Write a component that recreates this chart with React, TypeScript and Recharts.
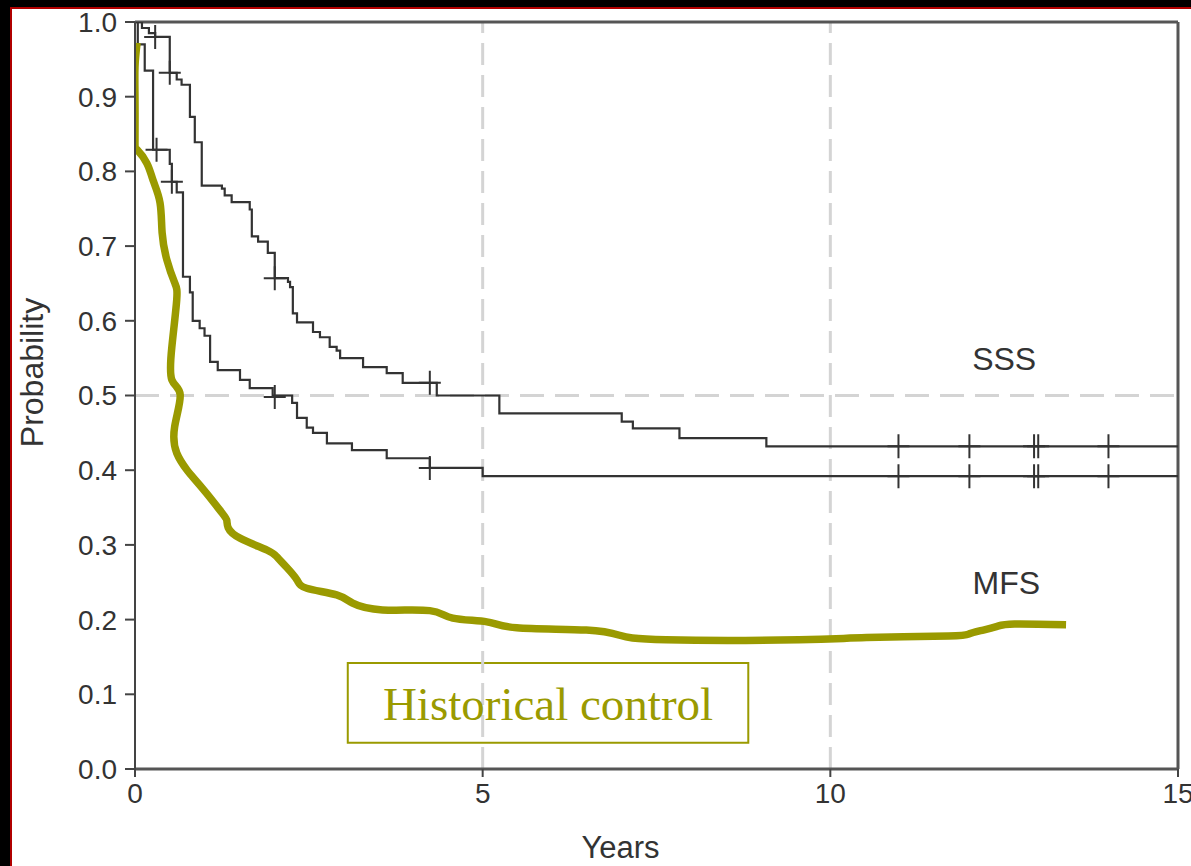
import React from 'react';
import { LineChart, Line, XAxis, YAxis, ReferenceLine, ReferenceArea, ReferenceDot } from 'recharts';

// SSS curve: time of each step (years) and the probability after it
const sssTimes = [0, 0.1, 0.2, 0.29, 0.5, 0.6, 0.67, 0.79, 0.86, 0.96, 1.25, 1.29, 1.39, 1.65, 1.68, 1.77, 1.91, 2.01, 2.2, 2.23, 2.27, 2.33, 2.56, 2.66, 2.8, 2.9, 2.95, 3.28, 3.62, 3.85, 4.34, 5.24, 7.0, 7.16, 7.83, 9.08, 15];
const sssProb = [1.0, 0.992, 0.985, 0.98, 0.932, 0.923, 0.916, 0.873, 0.839, 0.781, 0.777, 0.768, 0.759, 0.749, 0.713, 0.706, 0.691, 0.657, 0.652, 0.645, 0.61, 0.598, 0.585, 0.578, 0.565, 0.56, 0.55, 0.538, 0.53, 0.517, 0.5, 0.476, 0.465, 0.456, 0.443, 0.432, 0.432];

// MFS curve
const mfsTimes = [0, 0.04, 0.14, 0.26, 0.5, 0.53, 0.6, 0.69, 0.79, 0.83, 0.93, 1.0, 1.08, 1.19, 1.51, 1.65, 1.98, 2.26, 2.33, 2.47, 2.56, 2.76, 3.12, 3.62, 4.24, 5.0, 15];
const mfsProb = [1.0, 0.97, 0.935, 0.829, 0.81, 0.786, 0.772, 0.659, 0.638, 0.6, 0.59, 0.58, 0.545, 0.534, 0.521, 0.51, 0.5, 0.49, 0.47, 0.457, 0.45, 0.436, 0.427, 0.416, 0.403, 0.392, 0.392];

// censored observations (+ marks)
const sssCensorTimes = [0.29, 0.5, 2.01, 4.24, 10.98, 12.0, 12.93, 12.99, 14.0];
const sssCensorProb = [0.98, 0.932, 0.657, 0.517, 0.432, 0.432, 0.432, 0.432, 0.432];
const mfsCensorTimes = [0.31, 0.53, 2.01, 4.24, 10.98, 12.0, 12.93, 12.99, 14.0];
const mfsCensorProb = [0.829, 0.786, 0.498, 0.403, 0.392, 0.392, 0.392, 0.392, 0.392];

// hand drawn historical control curve
const histTimes = [0.03, 0, 0, 0, 0.03, 0.17, 0.26, 0.36, 0.39, 0.46, 0.57, 0.6, 0.53, 0.53, 0.65, 0.57, 0.6, 0.75, 0.83, 1.03, 1.25, 1.32, 1.34, 1.51, 1.9, 2.04, 2.18, 2.33, 2.47, 2.9, 3.13, 3.56, 4.24, 4.57, 5.06, 5.49, 6.49, 6.97, 7.64, 9.55, 10.52, 11.7, 12.0, 12.2, 12.4, 12.65, 13.39];
const histProb = [0.972, 0.94, 0.896, 0.842, 0.829, 0.811, 0.788, 0.758, 0.718, 0.681, 0.651, 0.628, 0.565, 0.521, 0.501, 0.458, 0.423, 0.4, 0.391, 0.369, 0.343, 0.333, 0.323, 0.309, 0.293, 0.284, 0.27, 0.253, 0.242, 0.233, 0.222, 0.213, 0.212, 0.202, 0.197, 0.189, 0.186, 0.179, 0.173, 0.173, 0.176, 0.178, 0.181, 0.186, 0.191, 0.194, 0.193];

const xTicks = [0, 5, 10, 15];
const yTicks = [0, 0.1, 0.2, 0.3, 0.4, 0.5, 0.6, 0.7, 0.8, 0.9, 1.0];

// text annotations
const sssLabel = { t: 12.5, p: 0.55 };
const mfsLabel = { t: 12.53, p: 0.249 };
const boxX = [3.06, 8.82];
const boxY = [0.035, 0.142];

const zip = (ts: number[], ps: number[]) => ts.map((t, i) => ({ t, p: ps[i] }));

const sssData = zip(sssTimes, sssProb);
const mfsData = zip(mfsTimes, mfsProb);
const sssCensor = zip(sssCensorTimes, sssCensorProb);
const mfsCensor = zip(mfsCensorTimes, mfsCensorProb);
const histData = zip(histTimes, histProb);

const OLIVE = '#9a9a00';
const INK = '#333';
const SANS = '"Liberation Sans", Arial, Helvetica, sans-serif';

const PlusMark = (props: any) => {
    const { cx, cy, index } = props;
    if (cx == null || cy == null) return null;
    return (
        <path
            key={`plus-${index}`}
            d={`M${cx - 11},${cy}H${cx + 11}M${cx},${cy - 12}V${cy + 12}`}
            stroke={INK}
            strokeWidth={2}
            fill="none"
        />
    );
};

const App: React.FC = () => {
    return (
        <div style={{ position: 'absolute', left: 0, top: 0, width: 1191, height: 866, background: '#000', overflow: 'hidden' }}>
            <div
                style={{
                    position: 'absolute', left: 10, top: 7, width: 1181, height: 859,
                    background: '#fff', borderTop: '2px solid #b00000', borderLeft: '2px solid #b00000',
                }}
            />
            <div style={{ position: 'absolute', left: 0, top: 0 }}>
                <LineChart width={1191} height={866} margin={{ top: 22, right: 13, left: 0, bottom: 0 }} style={{ fontFamily: SANS }}>
                    <XAxis
                        type="number"
                        dataKey="t"
                        domain={[0, 15]}
                        ticks={xTicks}
                        interval={0}
                        allowDataOverflow
                        height={97}
                        tickSize={8}
                        tickMargin={6}
                        axisLine={{ stroke: '#555', strokeWidth: 3 }}
                        tickLine={{ stroke: '#444', strokeWidth: 2 }}
                        tick={{ fill: '#333', fontSize: 28, fontFamily: SANS }}
                        label={{ value: 'Years', position: 'center', dx: -36, dy: 29, fill: '#333', fontSize: 31, fontFamily: SANS }}
                    />
                    <YAxis
                        type="number"
                        dataKey="p"
                        domain={[0, 1]}
                        ticks={yTicks}
                        interval={0}
                        allowDataOverflow
                        width={135}
                        tickSize={10}
                        tickMargin={8}
                        tickFormatter={(v: number) => v.toFixed(1)}
                        axisLine={{ stroke: '#444', strokeWidth: 2 }}
                        tickLine={{ stroke: '#444', strokeWidth: 2 }}
                        tick={{ fill: '#333', fontSize: 28, fontFamily: SANS }}
                        label={{ value: 'Probability', angle: -90, position: 'center', dx: -36, dy: -23, fill: '#333', fontSize: 32, fontFamily: SANS }}
                    />

                    <ReferenceLine x={5} stroke="#d4d4d4" strokeWidth={3} strokeDasharray="22 10" />
                    <ReferenceLine x={10} stroke="#d4d4d4" strokeWidth={3} strokeDasharray="22 10" />
                    <ReferenceLine y={0.5} stroke="#d4d4d4" strokeWidth={3} strokeDasharray="24 11" />
                    <ReferenceLine y={1} stroke="#555" strokeWidth={3} />
                    <ReferenceLine x={15} stroke="#555" strokeWidth={3} />

                    <ReferenceArea
                        x1={boxX[0]} x2={boxX[1]} y1={boxY[0]} y2={boxY[1]}
                        fill="none" fillOpacity={0} stroke={OLIVE} strokeWidth={2}
                        label={{ value: 'Historical control', position: 'center', fill: OLIVE, fontSize: 47, fontFamily: '"Liberation Serif", "Times New Roman", serif' }}
                    />

                    <Line data={sssData} dataKey="p" type="stepAfter" stroke={INK} strokeWidth={2.2} dot={false} activeDot={false} isAnimationActive={false} />
                    <Line data={mfsData} dataKey="p" type="stepAfter" stroke={INK} strokeWidth={2.2} dot={false} activeDot={false} isAnimationActive={false} />
                    <Line data={sssCensor} dataKey="p" stroke="none" dot={PlusMark} activeDot={false} isAnimationActive={false} />
                    <Line data={mfsCensor} dataKey="p" stroke="none" dot={PlusMark} activeDot={false} isAnimationActive={false} />
                    <Line data={histData} dataKey="p" type="natural" stroke={OLIVE} strokeWidth={7.5} strokeLinejoin="round" dot={false} activeDot={false} isAnimationActive={false} />

                    <ReferenceDot x={sssLabel.t} y={sssLabel.p} r={0} fill="none" stroke="none"
                        label={{ value: 'SSS', position: 'center', fill: '#333', fontSize: 32, fontFamily: SANS }} />
                    <ReferenceDot x={mfsLabel.t} y={mfsLabel.p} r={0} fill="none" stroke="none"
                        label={{ value: 'MFS', position: 'center', fill: '#333', fontSize: 32, fontFamily: SANS }} />
                </LineChart>
            </div>
        </div>
    );
};

export default App;
